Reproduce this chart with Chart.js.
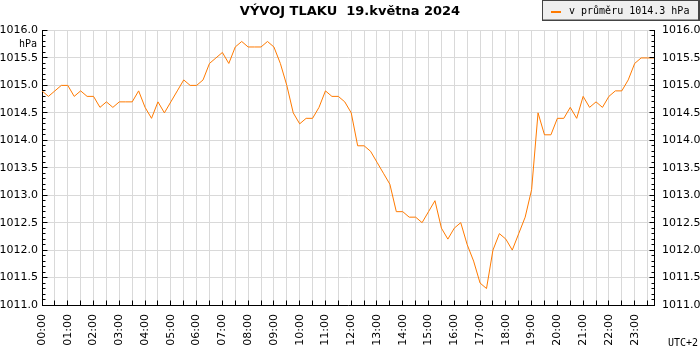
<!DOCTYPE html>
<html><head><meta charset="utf-8">
<script src="https://cdn.jsdelivr.net/npm/chart.js@4.4.1/dist/chart.umd.min.js"></script>
<style>html,body{margin:0;padding:0;background:#fff}canvas{display:block}</style>
</head><body>
<canvas id="c" width="700" height="350"></canvas>
<script>
const chartTitle = 'VÝVOJ TLAKU  19.května 2024';
const seriesLabel = 'v průměru 1014.3 hPa';
const unitLabel = 'hPa';
const zoneLabel = 'UTC+2';

const times = [
 '00:00','00:15','00:30','00:45','01:00','01:15','01:30','01:45','02:00','02:15','02:30','02:45',
 '03:00','03:15','03:30','03:45','04:00','04:15','04:30','04:45','05:00','05:15','05:30','05:45',
 '06:00','06:15','06:30','06:45','07:00','07:15','07:30','07:45','08:00','08:15','08:30','08:45',
 '09:00','09:15','09:30','09:45','10:00','10:15','10:30','10:45','11:00','11:15','11:30','11:45',
 '12:00','12:15','12:30','12:45','13:00','13:15','13:30','13:45','14:00','14:15','14:30','14:45',
 '15:00','15:15','15:30','15:45','16:00','16:15','16:30','16:45','17:00','17:15','17:30','17:45',
 '18:00','18:15','18:30','18:45','19:00','19:15','19:30','19:45','20:00','20:15','20:30','20:45',
 '21:00','21:15','21:30','21:45','22:00','22:15','22:30','22:45','23:00','23:15','23:30','23:45'
];

const pressure = [
 1014.9,1014.8,1014.9,1015.0,1015.0,1014.8,1014.9,1014.8,1014.8,1014.6,1014.7,1014.6,
 1014.7,1014.7,1014.7,1014.9,1014.6,1014.4,1014.7,1014.5,1014.7,1014.9,1015.1,1015.0,
 1015.0,1015.1,1015.4,1015.5,1015.6,1015.4,1015.7,1015.8,1015.7,1015.7,1015.7,1015.8,
 1015.7,1015.4,1015.0,1014.5,1014.3,1014.4,1014.4,1014.6,1014.9,1014.8,1014.8,1014.7,
 1014.5,1013.9,1013.9,1013.8,1013.6,1013.4,1013.2,1012.7,1012.7,1012.6,1012.6,1012.5,
 1012.7,1012.9,1012.4,1012.2,1012.4,1012.5,1012.1,1011.8,1011.4,1011.3,1012.0,1012.3,
 1012.2,1012.0,1012.3,1012.6,1013.1,1014.5,1014.1,1014.1,1014.4,1014.4,1014.6,1014.4,
 1014.8,1014.6,1014.7,1014.6,1014.8,1014.9,1014.9,1015.1,1015.4,1015.5,1015.5,1015.5
];

const yMin = 1011.0, yMax = 1016.0, yStep = 0.5, yMinorStep = 0.1;

const lineColor = '#ff7a00';
const gridColor = '#d9d9d9';
const align = p => Math.round(p - 0.5) + 0.5;

const decor = {
  id: 'decor',
  afterDraw(chart) {
    const {ctx, chartArea: a, scales} = chart;
    const y = scales.y, x = scales.x;
    ctx.save();
    ctx.strokeStyle = '#000';
    ctx.lineWidth = 1;
    ctx.beginPath();
    const nMinor = Math.round((yMax - yMin) / yMinorStep);
    const per = Math.round(yStep / yMinorStep);
    const L = align(a.left), R = align(a.right), B = align(a.bottom);
    for (let k = 0; k <= nMinor; k++) {
      const py = align(y.getPixelForValue(yMin + k * yMinorStep));
      const len = k % per === 0 ? 5 : 3;
      ctx.moveTo(L - 0.5, py); ctx.lineTo(L + len, py);
      ctx.moveTo(R + 0.5, py); ctx.lineTo(R - len, py);
    }
    for (let i = 0; i < times.length; i += 2) {
      const px = align(x.getPixelForValue(i));
      ctx.moveTo(px, B); ctx.lineTo(px, B - 5);
    }
    ctx.stroke();

    ctx.fillStyle = '#000';
    ctx.font = '10px "DejaVu Sans Mono"';
    ctx.textAlign = 'right';
    ctx.textBaseline = 'middle';
    ctx.fillText(unitLabel, 37, 44.5);
    ctx.textAlign = 'right';
    ctx.fillText(zoneLabel, 698, 343.5);

    // legend box
    ctx.fillStyle = '#efefef';
    ctx.fillRect(542, 0, 158, 20);
    ctx.strokeStyle = '#444';
    ctx.strokeRect(542.5, 0.5, 156, 19.5);
    ctx.beginPath();
    ctx.moveTo(542, 20.5); ctx.lineTo(700, 20.5);
    ctx.moveTo(699.5, 0); ctx.lineTo(699.5, 21);
    ctx.stroke();
    ctx.strokeStyle = lineColor;
    ctx.lineWidth = 2;
    ctx.beginPath();
    ctx.moveTo(551, 12); ctx.lineTo(561, 12);
    ctx.stroke();
    ctx.fillStyle = '#000';
    ctx.font = '10px "DejaVu Sans Mono"';
    ctx.textAlign = 'left';
    ctx.textBaseline = 'middle';
    ctx.fillText(chart.data.datasets[0].label, 569, 11.5);
    ctx.restore();
  }
};

const tickFont = {family: 'DejaVu Sans', size: 11};
const fmt = v => Number(v).toFixed(1);

new Chart(document.getElementById('c'), {
  type: 'line',
  data: {
    labels: times,
    datasets: [{
      label: seriesLabel,
      data: pressure,
      borderColor: lineColor,
      borderWidth: 1,
      pointRadius: 0,
      tension: 0,
      fill: false,
      yAxisID: 'y'
    }]
  },
  options: {
    responsive: false,
    animation: false,
    devicePixelRatio: 1,
    layout: {padding: 0},
    plugins: {
      legend: {display: false},
      tooltip: {enabled: false},
      title: {
        display: true,
        text: chartTitle,
        color: '#000',
        font: {family: 'DejaVu Sans', size: 13, weight: 'bold'},
        padding: {top: 4, bottom: 10.9}
      }
    },
    scales: {
      x: {
        type: 'category',
        offset: false,
        grid: {
          color: c => (c.index % 2 === 0 ? gridColor : 'rgba(0,0,0,0)'),
          drawTicks: false
        },
        border: {display: true, color: '#000'},
        ticks: {
          autoSkip: false,
          minRotation: 90,
          maxRotation: 90,
          padding: 9,
          color: '#000',
          font: tickFont,
          callback: (v, i) => (i % 4 === 0 ? times[i] : '')
        },
        afterFit: s => { s.height = 45; }
      },
      y: {
        type: 'linear',
        position: 'left',
        min: yMin,
        max: yMax,
        grid: {color: gridColor, drawTicks: false},
        border: {display: true, color: '#000'},
        ticks: {stepSize: yStep, padding: 4, color: '#000', font: tickFont, callback: fmt},
        afterFit: s => { s.width = 42; }
      },
      y2: {
        type: 'linear',
        position: 'right',
        min: yMin,
        max: yMax,
        grid: {display: false, drawTicks: false},
        border: {display: true, color: '#000'},
        ticks: {stepSize: yStep, padding: 8, color: '#000', font: tickFont, callback: fmt},
        afterFit: s => { s.width = 46; }
      }
    }
  },
  plugins: [decor]
});
</script>
</body></html>
